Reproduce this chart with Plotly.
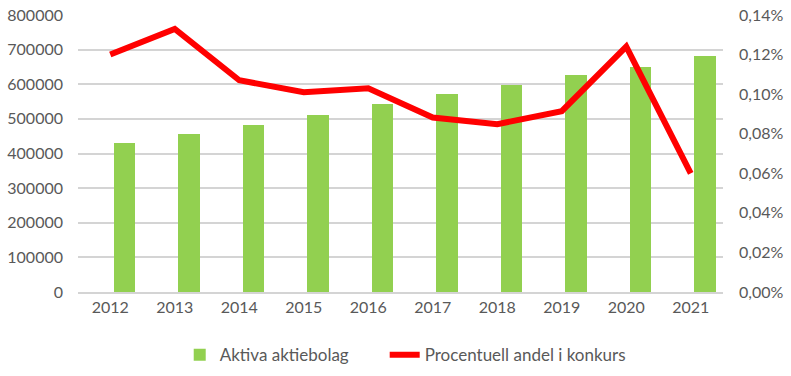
import plotly.graph_objects as go

years = ["2012", "2013", "2014", "2015", "2016", "2017", "2018", "2019", "2020", "2021"]
aktiva = [431000, 456000, 482000, 511000, 543000, 572000, 598000, 627000, 650000, 682000]
andel = [0.00120, 0.00133, 0.00107, 0.00101, 0.00103, 0.000882, 0.000848, 0.000914, 0.00124, 0.000599]

left_ticks = [0, 100000, 200000, 300000, 400000, 500000, 600000, 700000, 800000]
right_ticks = [0, 0.0002, 0.0004, 0.0006, 0.0008, 0.0010, 0.0012, 0.0014]

font_family = "Lato, Liberation Sans, sans-serif"
tick_color = "#595959"
grid_color = "#D4D4D4"

fig = go.Figure()
fig.add_trace(go.Bar(
    x=years, y=aktiva, name="Aktiva aktiebolag",
    marker=dict(color="#92D050", line=dict(width=0)),
    width=0.33, offset=0.055, legend="legend",
))
fig.add_trace(go.Scatter(
    x=years, y=andel, name="Procentuell andel i konkurs", yaxis="y2",
    mode="lines", line=dict(color="#FF0000", width=6), legend="legend2",
))

legend_common = dict(orientation="h", xanchor="left", y=-0.163, yanchor="top",
                     font=dict(size=17, color=tick_color), bgcolor="rgba(0,0,0,0)")

fig.update_layout(
    width=791, height=376,
    margin=dict(l=78, r=68, t=15, b=84, autoexpand=False),
    paper_bgcolor="white", plot_bgcolor="white",
    separators=", ",
    font=dict(family=font_family, size=16, color=tick_color),
    showlegend=True,
    legend=dict(x=0.1577, **legend_common),
    legend2=dict(x=0.4755, **legend_common),
    xaxis=dict(type="category", showgrid=False, showline=True, linecolor=grid_color,
               linewidth=2, ticks="", automargin=False,
               tickfont=dict(size=16, color=tick_color)),
    yaxis=dict(range=[0, 800000], tickvals=left_ticks, tickformat=".0f",
               showgrid=True, gridcolor=grid_color, gridwidth=2, zeroline=False,
               ticks="", ticklabelstandoff=14, automargin=False,
               ticklabeloverflow="allow",
               tickfont=dict(size=16, color=tick_color)),
    yaxis2=dict(range=[0, 0.0014], tickvals=right_ticks, tickformat=".2%",
                overlaying="y", side="right", showgrid=False, zeroline=False,
                ticks="", ticklabelstandoff=15, automargin=False,
                ticklabeloverflow="allow",
                tickfont=dict(size=16, color=tick_color)),
    bargap=0,
)

# remove the browser's default 8px body margin so the figure fills the window exactly
fig.write_html("out.html", config={"displayModeBar": False},
               post_script="document.body.style.margin='0';")
